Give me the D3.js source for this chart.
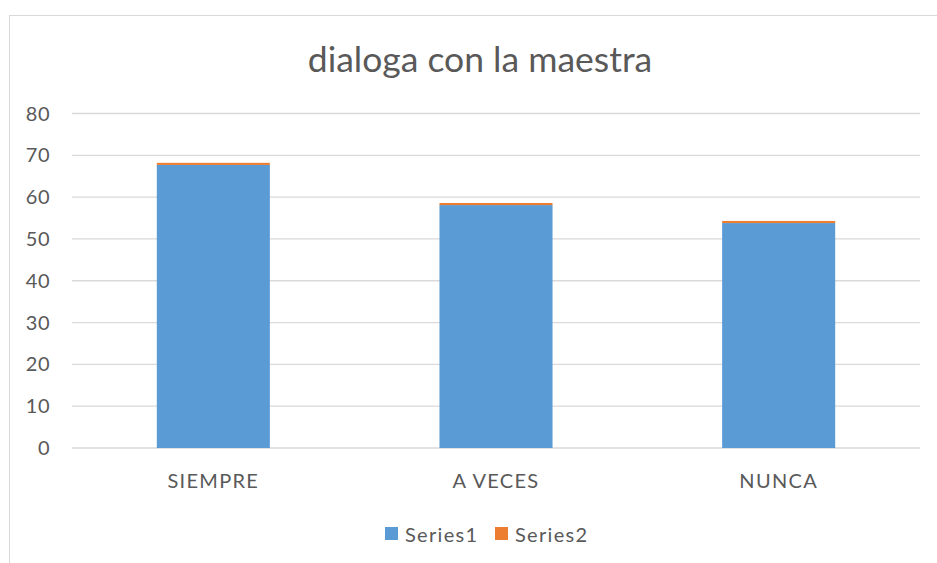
<!DOCTYPE html>
<html><head><meta charset="utf-8">
<script src="https://cdn.jsdelivr.net/npm/d3@7"></script>
<style>body{margin:0;background:#fff}svg{display:block}</style>
</head><body>
<script>
const categories = ["SIEMPRE", "A VECES", "NUNCA"];
const series1 = [67.7, 58.1, 53.8];
const series2 = [0.5, 0.5, 0.5];
const seriesNames = ["Series1", "Series2"];
const yTicks = [0, 10, 20, 30, 40, 50, 60, 70, 80];
const title = "dialoga con la maestra";
const colors = ["#5b9bd5", "#ed7d31"];

const W = 937, H = 563;
const font = "Lato, 'Open Sans', sans-serif";
const svg = d3.select("body").append("svg").attr("width", W).attr("height", H);
svg.append("rect").attr("x", 9.5).attr("y", 15.5).attr("width", 940).attr("height", 560)
  .attr("fill", "#fff").attr("stroke", "#d9d9d9");

const x = d3.scaleBand().domain(categories).range([72, 920]).paddingInner(0.6).paddingOuter(0.3);
const y = d3.scaleLinear().domain([0, 80]).range([448, 113.5]);

svg.append("g").selectAll("line").data(yTicks).join("line")
  .attr("x1", 72).attr("x2", 920).attr("y1", d => y(d)).attr("y2", d => y(d))
  .attr("stroke", "#d9d9d9").attr("stroke-width", 1.3);

const data = categories.map((c, i) => ({cat: c, s1: series1[i], s2: series2[i]}));
const stack = d3.stack().keys(["s1", "s2"])(data);
svg.append("g").selectAll("g").data(stack).join("g").attr("fill", (d, i) => colors[i])
  .selectAll("rect").data(d => d).join("rect")
  .attr("x", d => x(d.data.cat)).attr("width", x.bandwidth())
  .attr("y", d => y(d[1])).attr("height", d => y(d[0]) - y(d[1]));

svg.append("g").selectAll("text").data(yTicks).join("text")
  .attr("x", 50).attr("y", d => y(d)).attr("dy", "0.35em").attr("text-anchor", "end")
  .attr("font-family", font).attr("font-size", 20).attr("letter-spacing", 0.5).attr("fill", "#595959").text(d => d);

svg.append("g").selectAll("text").data(categories).join("text")
  .attr("x", d => x(d) + x.bandwidth() / 2).attr("y", 488).attr("text-anchor", "middle")
  .attr("font-family", font).attr("font-size", 20).attr("letter-spacing", 1.3).attr("fill", "#595959").text(d => d);

svg.append("text").attr("x", 480).attr("y", 72).attr("text-anchor", "middle")
  .attr("font-family", font).attr("font-size", 35.5).attr("fill", "#595959").text(title);

const leg = svg.append("g").selectAll("g").data(seriesNames).join("g")
  .attr("transform", (d, i) => `translate(${385 + i * 110},527)`);
leg.append("rect").attr("width", 13).attr("height", 13).attr("fill", (d, i) => colors[i]);
leg.append("text").attr("x", 20).attr("y", 14.5)
  .attr("font-family", font).attr("font-size", 20).attr("letter-spacing", 1.3).attr("fill", "#595959").text(d => d);
</script>
</body></html>
